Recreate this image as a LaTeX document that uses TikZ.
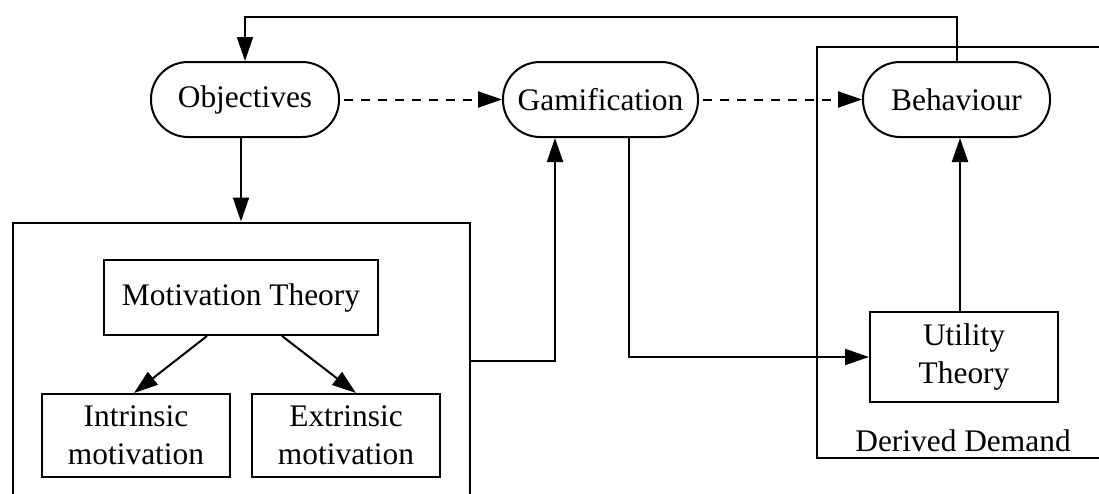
\documentclass[tikz,border=0pt]{standalone}
\usepackage{fontspec}
\setmainfont{Liberation Serif}
\usetikzlibrary{arrows.meta,calc}
\begin{document}
\begin{tikzpicture}[x=1pt,y=-1pt,
  every node/.style={font=\fontsize{31.4}{38}\selectfont, inner sep=0pt, align=center},
  ln/.style={line width=2pt},
  term/.style={ln, draw, rounded corners=37pt, minimum height=75pt},
  box/.style={ln, draw, rectangle},
  cluster/.style={ln, draw, rectangle},
  arr/.style={ln, -{Triangle[length=24pt,width=16pt]}},
  darr/.style={arr, dash pattern=on 9pt off 8pt, dash phase=-4pt}
]
\useasboundingbox (0,0) rectangle (1099,493);
\clip (0,0) rectangle (1099,493);
% clusters
\node[cluster, minimum width=457pt, minimum height=276.4pt] (motbox) at (241,360.7) {};
\node[cluster, minimum width=293pt, minimum height=411pt] (ddbox) at (963.5,252.5) {};
\node (ddlabel) at (963,441) {Derived Demand};
% nodes
\node[term, minimum width=188pt] (obj) at (245,99.5) {Objectives};
\node[term, minimum width=195pt] (gam) at (600.5,99.5) {Gamification};
\node[term, minimum width=187pt] (beh) at (956.5,99.5) {Behaviour};
\node[box, minimum width=274pt, minimum height=75pt] (mt) at (241,297.5) {Motivation Theory};
\node[box, minimum width=188pt, minimum height=83pt] (intr) at (136,435.5) {Intrinsic\\motivation};
\node[box, minimum width=188pt, minimum height=83pt] (extr) at (346,435.5) {Extrinsic\\motivation};
\node[box, minimum width=188pt, minimum height=90pt] (util) at (964,357) {Utility\\Theory};
% connectors
\coordinate (topline) at (0,16.5);
\draw[arr] (beh.north) -- (beh.north |- topline) -| (obj.north);
\draw[darr] (obj) -- (gam);
\draw[darr] (gam) -- (beh);
\draw[arr] (motbox.north |- obj.south) -- (motbox.north);
\draw[arr] ([xshift=-34pt]mt.south) -- ([xshift=-2pt]intr.north);
\draw[arr] ([xshift=41pt]mt.south) -- ([xshift=10pt]extr.north);
\draw[arr] (motbox.east) -| ([xshift=-45.5pt]gam.south);
\draw[arr] ([xshift=28.5pt]gam.south) |- (util.west);
\draw[arr] ([xshift=-4pt]util.north) -- ([xshift=-4pt]util.north |- beh.south);
\end{tikzpicture}
\end{document}
